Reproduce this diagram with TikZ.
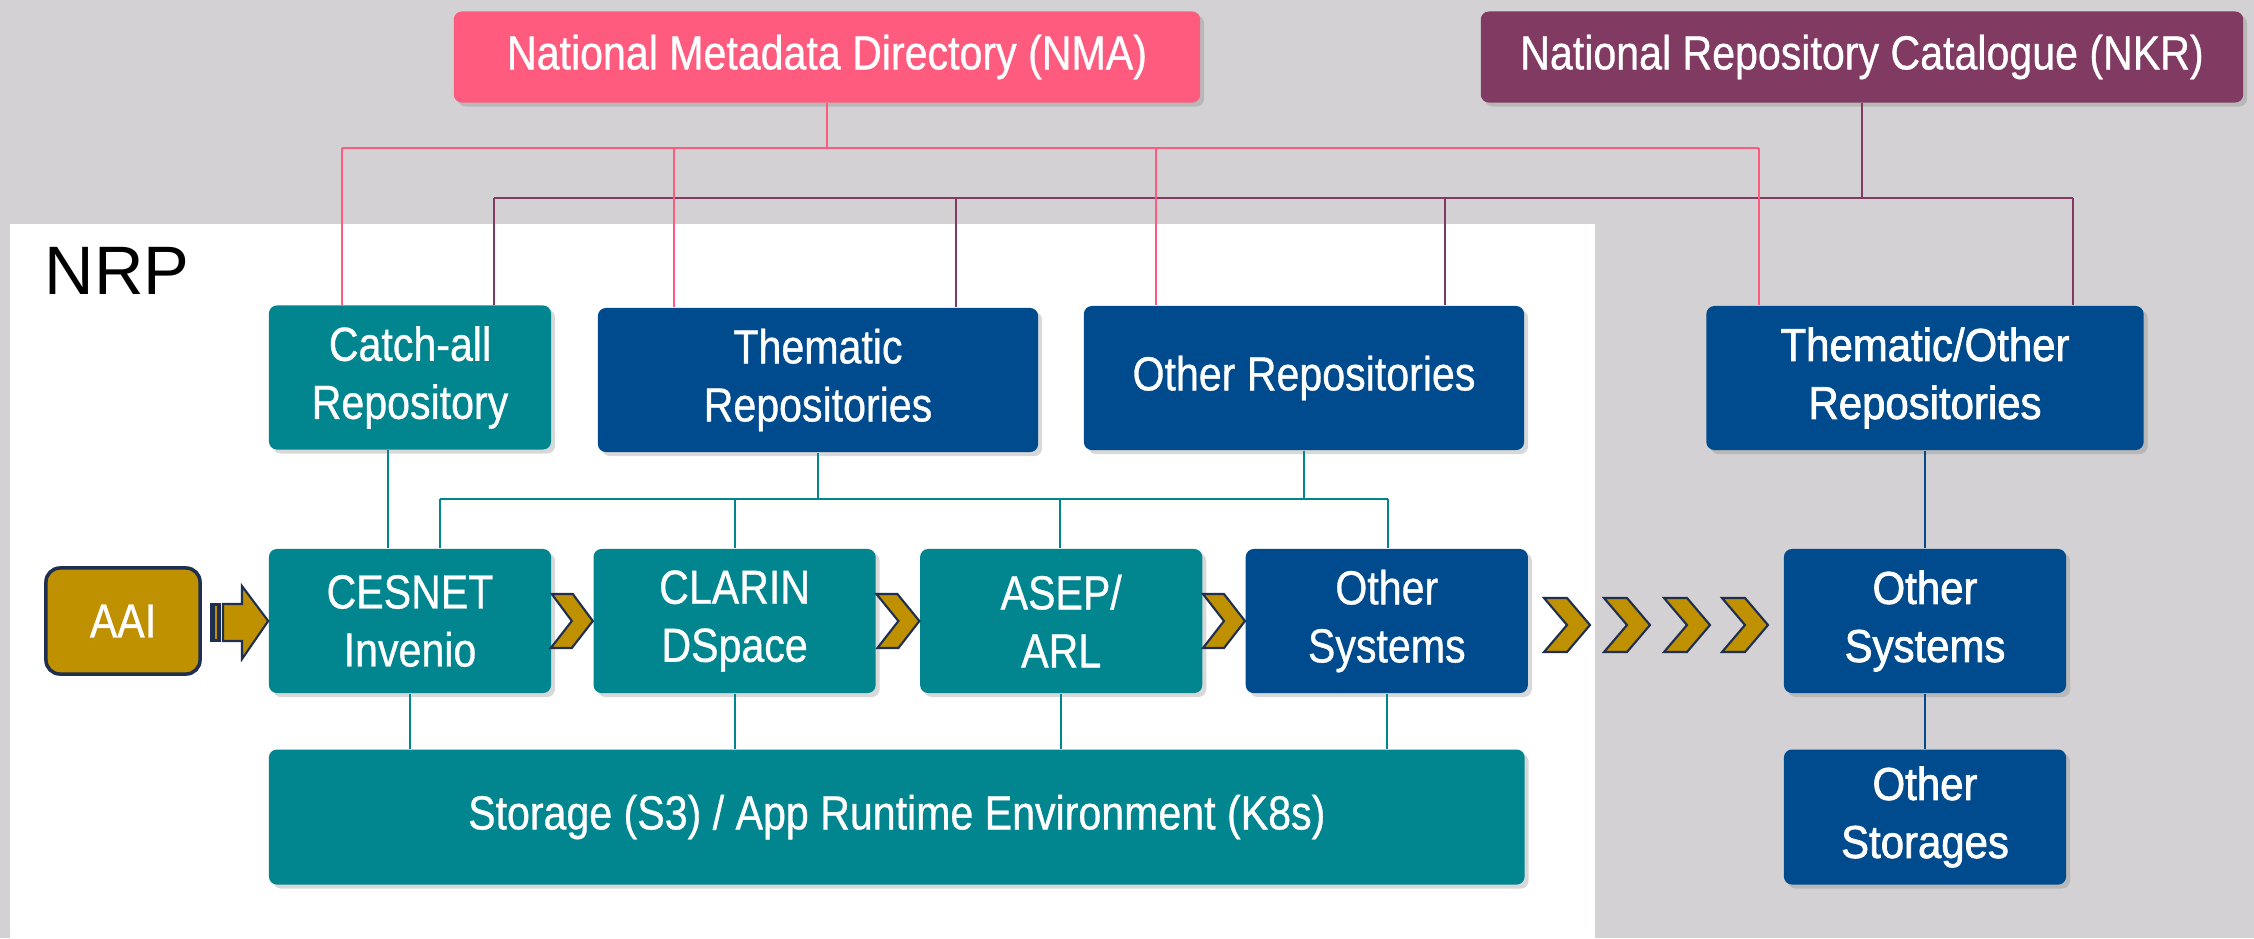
\documentclass[tikz,border=0pt]{standalone}
\usepackage{fontspec}
\setmainfont{Liberation Sans}
\newfontfamily\condfont{Liberation Sans}[FakeStretch=0.86,FakeBold=0.7]
\newfontfamily\medfont{Liberation Sans}[FakeStretch=0.91,FakeBold=1.6]
\usetikzlibrary{positioning,shadows}
\definecolor{bggray}{HTML}{D3D1D3}
\definecolor{nrpteal}{HTML}{01868F}
\definecolor{nrpblue}{HTML}{004B8D}
\definecolor{nmapink}{HTML}{FF5B7E}
\definecolor{nkrplum}{HTML}{813A62}
\definecolor{aaigold}{HTML}{BF9000}
\definecolor{navy}{HTML}{1F2F4F}

\begin{document}
\begin{tikzpicture}[x=0.01cm, y=-0.01cm,
  box/.style={rounded corners=0.08cm, text=white, align=center, inner sep=0pt,
    minimum width=2.82cm, minimum height=1.44cm,
    font=\condfont\fontsize{13.6}{16.5}\selectfont,
    drop shadow={shadow xshift=0.04cm, shadow yshift=-0.04cm, opacity=0.3}},
  tealbox/.style={box, fill=nrpteal},
  bluebox/.style={box, fill=nrpblue},
  widebox/.style={bluebox, font=\medfont\fontsize{13.1}{16.5}\selectfont},
  headbox/.style={box, minimum height=0.91cm},
  chev/.style={fill=aaigold, draw=navy, line width=0.6pt, line join=miter},
  pinkln/.style={draw=nmapink, line width=0.8pt},
  plumln/.style={draw=nkrplum, line width=0.8pt},
  tealln/.style={draw=nrpteal, line width=0.6pt},
  blueln/.style={draw=nrpblue, line width=0.6pt}]
  \useasboundingbox (0,0) rectangle (2254,938);
  \fill[bggray] (0,0) rectangle (2254,938);
  \fill[white] (10,224) rectangle (1595,938);
  \node[anchor=base west, inner sep=0pt, font=\fontsize{19.5}{22}\selectfont] (nrp) at (44,294) {NRP};

  \node[headbox, fill=nmapink, minimum width=7.46cm] (nma) at (827,57) {National Metadata Directory (NMA)};
  \node[headbox, fill=nkrplum, minimum width=7.62cm] (nkr) at (1862,57) {National Repository Catalogue (NKR)};

  \node[tealbox] (cesnet) at (410,621) {CESNET\\Invenio};
  \node[tealbox, right=0.41cm of cesnet] (clarin) {CLARIN\\DSpace};
  \node[tealbox, right=0.43cm of clarin] (asep) {ASEP/\\ARL};
  \node[bluebox, right=0.42cm of asep] (othsys) {Other\\Systems};
  \node[tealbox, above=0.98cm of cesnet] (catch) {Catch-all\\Repository};
  \node[bluebox, minimum width=4.4cm] (them) at (818,380) {Thematic\\Repositories};
  \node[bluebox, minimum width=4.4cm] (othrep) at (1304,378) {Other Repositories};
  \node[tealbox, below=0.55cm of cesnet.south west, anchor=north west,
    minimum width=12.55cm, minimum height=1.35cm] (storage) {Storage (S3) / App Runtime Environment (K8s)};

  \node[widebox, minimum width=4.37cm] (thoth) at (1925,378) {Thematic/Other\\Repositories};
  \node[widebox] (othsys2) at (1925,621) {Other\\Systems};
  \node[widebox, below=0.55cm of othsys2, minimum height=1.35cm] (othsto) {Other\\Storages};

  \node[fill=aaigold, draw=navy, line width=1pt, rounded corners=0.14cm, text=white,
    minimum width=1.54cm, minimum height=1.06cm,
    font=\condfont\fontsize{13.6}{16.5}\selectfont] (aai) at (123,621) {AAI};

  \draw[plumln] (nkr.south) -- (nkr.south |- 0,198);
  \draw[plumln] (494,198) -- (2073,198);
  \foreach \x/\n in {494/catch, 956/them, 1445/othrep, 2073/thoth}
    \draw[plumln] (\x,198) -- (\n.north -| \x,0);
  \draw[pinkln] (nma.south) -- (nma.south |- 0,148);
  \draw[pinkln] (342,148) -- (1759,148);
  \foreach \x/\n in {342/catch, 674/them, 1156/othrep, 1759/thoth}
    \draw[pinkln] (\x,148) -- (\n.north -| \x,0);

  \draw[tealln] (catch.south -| 388,0) -- (cesnet.north -| 388,0);
  \draw[tealln] (them.south) -- (them.south |- 0,499);
  \draw[tealln] (othrep.south) -- (othrep.south |- 0,499);
  \draw[tealln] (440,499) -- (1388,499);
  \foreach \x/\n in {440/cesnet, 735/clarin, 1060/asep, 1388/othsys}
    \draw[tealln] (\x,499) -- (\n.north -| \x,0);
  \foreach \n in {cesnet, clarin, asep, othsys}
    \draw[tealln] (\n.south) -- (\n.south |- storage.north);
  \draw[blueln] (thoth.south) -- (othsys2.north);
  \draw[blueln] (othsys2.south) -- (othsto.north);

  \foreach \a/\b in {cesnet/clarin, clarin/asep, asep/othsys}
    \draw[chev] (\a.east) ++(0,-27) -- ++(21,0) -- (\b.west) -- ++(-21,27) -- ++(-21,0) -- ++(21,-27) -- cycle;
  \foreach \x in {1544,1604,1664,1722}
    \draw[chev] (\x,598) -- ++(23,0) -- ++(23,27) -- ++(-23,27) -- ++(-23,0) -- ++(23,-27) -- cycle;

  \fill[navy] (210,603) rectangle (221,642);
  \draw[aaigold, line width=0.3pt] (216,606) -- (216,639);
  \draw[chev] (223,604) -- (242,604) -- (242,586) -- (cesnet.west) -- (242,659) -- (242,641) -- (223,641) -- cycle;
\end{tikzpicture}
\end{document}
